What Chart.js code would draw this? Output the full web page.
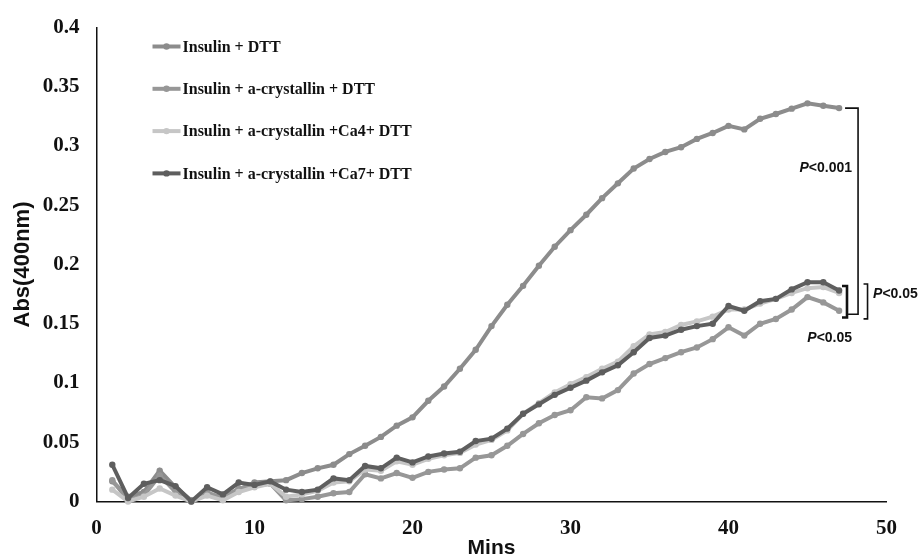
<!DOCTYPE html>
<html>
<head>
<meta charset="utf-8">
<title>Insulin aggregation</title>
<script src="https://cdn.jsdelivr.net/npm/chart.js@4"></script>
<style>
  html, body { margin: 0; padding: 0; background: #fff; }
  #wrap { width: 920px; height: 559px; }
</style>
</head>
<body>
<div id="wrap"><canvas id="chart" width="920" height="559"></canvas></div>
<script>
const minutes = [
  1, 2, 3, 4, 5, 6, 7, 8, 9, 10, 11, 12, 13, 14, 15, 16, 17, 18, 19, 20, 21, 22, 23, 24,
  25, 26, 27, 28, 29, 30, 31, 32, 33, 34, 35, 36, 37, 38, 39, 40, 41, 42, 43, 44, 45, 46, 47,
];

const insulinDtt = [
  0.017, 0.004, 0.008, 0.026, 0.012, 0.001, 0.006, 0.004, 0.010, 0.016, 0.017, 0.018,
  0.024, 0.028, 0.031, 0.040, 0.047, 0.0545, 0.064, 0.071, 0.085, 0.097, 0.112, 0.128,
  0.148, 0.166, 0.182, 0.199, 0.215, 0.229, 0.242, 0.256, 0.2685, 0.281, 0.289, 0.295,
  0.299, 0.306, 0.311, 0.317, 0.314, 0.323, 0.327, 0.3315, 0.336, 0.334, 0.332,
];

const crystallinDtt = [
  0.018, 0.001, 0.005, 0.022, 0.008, 0.0, 0.008, 0.002, 0.011, 0.013, 0.015, 0.001,
  0.002, 0.004, 0.007, 0.008, 0.023, 0.0195, 0.024, 0.020, 0.025, 0.027, 0.028, 0.037,
  0.039, 0.047, 0.057, 0.066, 0.073, 0.077, 0.088, 0.087, 0.094, 0.108, 0.116, 0.121,
  0.126, 0.130, 0.137, 0.147, 0.140, 0.150, 0.154, 0.162, 0.1725, 0.168, 0.161,
];

const ca4Dtt = [
  0.010, 0.0, 0.004, 0.011, 0.005, 0.0, 0.005, 0.001, 0.008, 0.012, 0.015, 0.004,
  0.006, 0.009, 0.016, 0.017, 0.027, 0.026, 0.034, 0.031, 0.036, 0.039, 0.041, 0.048,
  0.052, 0.060, 0.074, 0.083, 0.092, 0.099, 0.105, 0.112, 0.118, 0.131, 0.141, 0.143,
  0.149, 0.152, 0.156, 0.162, 0.162, 0.167, 0.171, 0.176, 0.180, 0.181, 0.176,
];

const ca7Dtt = [
  0.031, 0.003, 0.015, 0.018, 0.013, 0.0, 0.012, 0.006, 0.016, 0.014, 0.017, 0.010,
  0.008, 0.010, 0.0195, 0.018, 0.030, 0.028, 0.037, 0.033, 0.038, 0.0405, 0.042, 0.051,
  0.053, 0.0615, 0.074, 0.082, 0.090, 0.096, 0.102, 0.109, 0.115, 0.126, 0.138, 0.140,
  0.145, 0.148, 0.150, 0.165, 0.161, 0.169, 0.171, 0.179, 0.185, 0.185, 0.178,
];

const seriesNames = [
  "Insulin + DTT",
  "Insulin + a-crystallin + DTT",
  "Insulin + a-crystallin +Ca4+ DTT",
  "Insulin + a-crystallin +Ca7+ DTT",
];
const seriesColors = ["#8c8c8c", "#979797", "#c6c6c6", "#5e5e5e"];
const yTickLabels = ["0", "0.05", "0.1", "0.15", "0.2", "0.25", "0.3", "0.35", "0.4"];
const xTickLabels = ["0", "10", "20", "30", "40", "50"];

const toPoints = (values) => values.map((v, i) => ({ x: minutes[i], y: v }));

const makeDataset = (index, values) => ({
  label: seriesNames[index],
  data: toPoints(values),
  borderColor: seriesColors[index],
  backgroundColor: seriesColors[index],
  borderWidth: 4,
  pointRadius: 3.2,
  pointBorderWidth: 0,
  pointHoverRadius: 3.2,
  tension: 0,
  clip: false,
  order: 4 - index, // later series painted on top, as in the original
});

// legend + significance brackets, drawn straight onto the canvas
const annotationPlugin = {
  id: "annotations",
  afterDraw(chart) {
    const { ctx, chartArea, scales } = chart;
    const x = scales.x;
    const y = scales.y;
    ctx.save();

    // legend
    const lx = chartArea.left + 56;
    const ly = chartArea.top + 19;
    seriesNames.forEach((name, i) => {
      const rowY = ly + i * 42.3;
      ctx.strokeStyle = seriesColors[i];
      ctx.lineWidth = 4;
      ctx.beginPath();
      ctx.moveTo(lx, rowY);
      ctx.lineTo(lx + 28, rowY);
      ctx.stroke();
      ctx.fillStyle = seriesColors[i];
      ctx.beginPath();
      ctx.arc(lx + 14, rowY, 3.2, 0, Math.PI * 2);
      ctx.fill();
      ctx.fillStyle = "#111";
      ctx.font = "bold 16px 'Liberation Serif', 'Times New Roman', serif";
      ctx.textAlign = "left";
      ctx.textBaseline = "middle";
      ctx.fillText(name, lx + 30, rowY + 1);
    });

    ctx.strokeStyle = "#111";
    ctx.lineCap = "butt";

    // big bracket Insulin+DTT vs a-crystallin
    const bx = x.getPixelForValue(48.2);
    const bTop = y.getPixelForValue(0.332);
    const bBot = y.getPixelForValue(0.158);
    ctx.lineWidth = 1.6;
    ctx.beginPath();
    ctx.moveTo(bx - 13, bTop);
    ctx.lineTo(bx, bTop);
    ctx.lineTo(bx, bBot);
    ctx.lineTo(bx - 10, bBot);
    ctx.stroke();

    // thick small bracket
    const s1x = x.getPixelForValue(47.5);
    const s1Top = y.getPixelForValue(0.1818);
    const s1Bot = y.getPixelForValue(0.1553);
    ctx.lineWidth = 2.6;
    ctx.beginPath();
    ctx.moveTo(s1x - 5, s1Top);
    ctx.lineTo(s1x, s1Top);
    ctx.lineTo(s1x, s1Bot);
    ctx.lineTo(s1x - 5, s1Bot);
    ctx.stroke();

    // outer small bracket
    const s2x = x.getPixelForValue(48.8);
    const s2Top = y.getPixelForValue(0.1835);
    const s2Bot = y.getPixelForValue(0.1541);
    ctx.lineWidth = 1.6;
    ctx.beginPath();
    ctx.moveTo(s2x - 4, s2Top);
    ctx.lineTo(s2x, s2Top);
    ctx.lineTo(s2x, s2Bot);
    ctx.lineTo(s2x - 4, s2Bot);
    ctx.stroke();

    // P values
    const drawP = (text, px, py, align) => {
      ctx.font = "italic bold 14px 'Liberation Sans', Arial, sans-serif";
      const pW = ctx.measureText("P").width;
      ctx.font = "bold 14px 'Liberation Sans', Arial, sans-serif";
      const restW = ctx.measureText(text).width;
      const start = align === "right" ? px - pW - restW : px;
      ctx.fillStyle = "#111";
      ctx.textAlign = "left";
      ctx.textBaseline = "middle";
      ctx.font = "italic bold 14px 'Liberation Sans', Arial, sans-serif";
      ctx.fillText("P", start, py);
      ctx.font = "bold 14px 'Liberation Sans', Arial, sans-serif";
      ctx.fillText(text, start + pW, py);
    };
    drawP("<0.001", x.getPixelForValue(47.82), y.getPixelForValue(0.281), "right");
    drawP("<0.05", x.getPixelForValue(49.15), y.getPixelForValue(0.175), "left");
    drawP("<0.05", x.getPixelForValue(47.82), y.getPixelForValue(0.138), "right");

    ctx.restore();
  },
};

const config = {
  type: "line",
  data: {
    datasets: [
      makeDataset(0, insulinDtt),
      makeDataset(1, crystallinDtt),
      makeDataset(2, ca4Dtt),
      makeDataset(3, ca7Dtt),
    ],
  },
  options: {
    responsive: false,
    animation: false,
    layout: { padding: { top: 25, right: 33.5, bottom: 0, left: 0 } },
    plugins: {
      legend: { display: false },
      tooltip: { enabled: false },
    },
    scales: {
      x: {
        type: "linear",
        min: 0,
        max: 50,
        grid: { display: false, drawTicks: false },
        border: { display: true, color: "#111", width: 1.5 },
        ticks: {
          stepSize: 10,
          padding: 17,
          color: "#111",
          font: { family: "'Liberation Serif', 'Times New Roman', serif", size: 21, weight: "bold", lineHeight: 1 },
          callback: (value) => xTickLabels[value / 10],
        },
        title: {
          display: true,
          text: "Mins",
          color: "#111",
          padding: { top: 0, bottom: 0 },
          font: { family: "'Liberation Sans', Arial, sans-serif", size: 21, weight: "bold", lineHeight: 1 },
        },
        afterFit: (scale) => {
          scale.height = 57.5;
        },
      },
      y: {
        min: 0,
        max: 0.4,
        grid: { display: false, drawTicks: false },
        border: { display: true, color: "#111", width: 1.5 },
        ticks: {
          stepSize: 0.05,
          padding: 17,
          color: "#111",
          font: { family: "'Liberation Serif', 'Times New Roman', serif", size: 21, weight: "bold", lineHeight: 1 },
          callback: (value) => yTickLabels[Math.round(value / 0.05)],
        },
        title: {
          display: true,
          text: "Abs(400nm)",
          color: "#111",
          padding: { top: 12, bottom: 0 },
          font: { family: "'Liberation Sans', Arial, sans-serif", size: 22, weight: "bold", lineHeight: 1 },
        },
        afterFit: (scale) => {
          scale.width = 96.5;
        },
      },
    },
  },
  plugins: [annotationPlugin],
};

new Chart(document.querySelector("#chart"), config);
</script>
</body>
</html>
